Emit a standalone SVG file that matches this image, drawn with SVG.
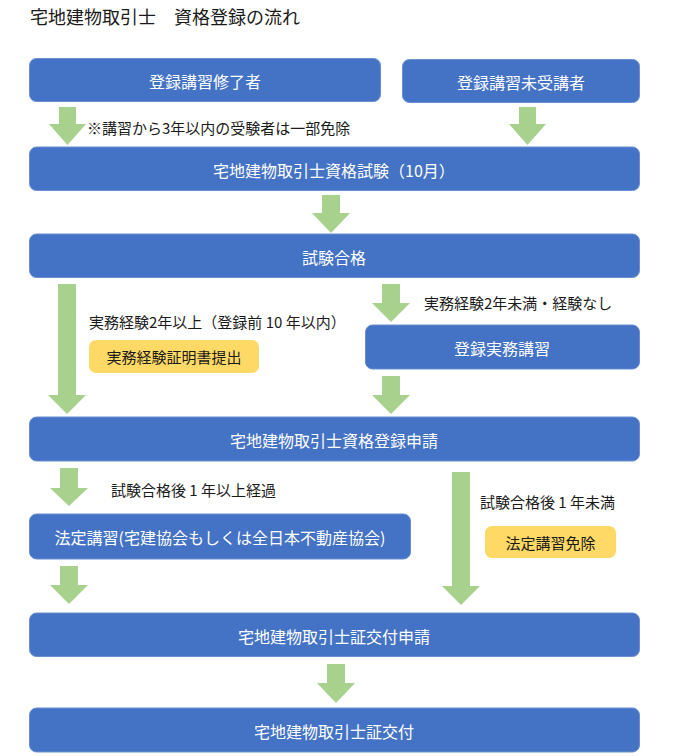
<svg xmlns="http://www.w3.org/2000/svg" width="680" height="756" viewBox="0 0 680 756">
<style>
text{font-family:"Noto Sans CJK JP","Noto Sans CJK SC",sans-serif;}
.box{fill:#4472C4;stroke:#6B8FD3;stroke-width:1;}
.ybox{fill:#FFD966;}
.bt{fill:#ffffff;font-size:16px;text-anchor:middle;dominant-baseline:central;}
.yt{fill:#1a1a1a;font-size:15px;text-anchor:middle;dominant-baseline:central;}
.lt{fill:#1a1a1a;font-size:15px;dominant-baseline:central;}
.arrow{fill:#A9D18E;}
</style>
<rect width="680" height="756" fill="#ffffff"/>
<text x="30" y="16" style="font-size:18px;fill:#1a1a1a;dominant-baseline:central">宅地建物取引士　資格登録の流れ</text>
<g id="connectors">
<polygon class="arrow" points="59,107 76,107 76,124 86,124 67.5,145 49,124 59,124"/>
<polygon class="arrow" points="519,107 536,107 536,124 546,124 527.5,145 509,124 519,124"/>
<polygon class="arrow" points="322,195 340,195 340,213 350,213 331,233 312,213 322,213"/>
<polygon class="arrow" points="58,284 76,284 76,395 86,395 67,414 48,395 58,395"/>
<polygon class="arrow" points="382,284 400,284 400,303 410,303 391,322 372,303 382,303"/>
<polygon class="arrow" points="382,376 400,376 400,395 410,395 391,414 372,395 382,395"/>
<polygon class="arrow" points="60,468 78,468 78,488 88,488 69,506 50,488 60,488"/>
<polygon class="arrow" points="60,566 78,566 78,585 88,585 69,604 50,585 60,585"/>
<polygon class="arrow" points="452,472 470,472 470,586 480,586 461,605 442,586 452,586"/>
<polygon class="arrow" points="327,664 345,664 345,683 355,683 336,703 317,683 327,683"/>
</g>
<g id="n1"><rect class="box" x="29.5" y="58.5" width="351" height="43" rx="7"/><text class="bt" x="205" y="80.5">登録講習修了者</text></g>
<g id="n2"><rect class="box" x="402.5" y="59.5" width="237" height="43" rx="7"/><text class="bt" x="521" y="81.5">登録講習未受講者</text></g>
<g id="note1"><text class="lt" x="87" y="127">※講習から3年以内の受験者は一部免除</text></g>
<g id="n3"><rect class="box" x="29.5" y="147" width="610" height="43.5" rx="7"/><text class="bt" x="334" y="169.5">宅地建物取引士資格試験（10月）</text></g>
<g id="n4"><rect class="box" x="29.5" y="234" width="610" height="43.5" rx="7"/><text class="bt" x="334" y="256.5">試験合格</text></g>
<g id="note2"><text class="lt" x="89" y="321">実務経験2年以上（登録前 10 年以内）</text></g>
<g id="y1"><rect class="ybox" x="89" y="340" width="170" height="33" rx="7"/><text class="yt" x="174" y="356.5">実務経験証明書提出</text></g>
<g id="note3"><text class="lt" x="424" y="302">実務経験2年未満・経験なし</text></g>
<g id="n5"><rect class="box" x="365.5" y="325" width="274" height="44" rx="7"/><text class="bt" x="502" y="347.5">登録実務講習</text></g>
<g id="n6"><rect class="box" x="29.5" y="417" width="610" height="44" rx="7"/><text class="bt" x="334" y="439.5">宅地建物取引士資格登録申請</text></g>
<g id="note4"><text class="lt" x="111" y="489">試験合格後 1 年以上経過</text></g>
<g id="n7"><rect class="box" x="29.5" y="514" width="381" height="45" rx="7"/><text class="bt" x="220" y="537">法定講習(宅建協会もしくは全日本不動産協会)</text></g>
<g id="note5"><text class="lt" x="480" y="501">試験合格後 1 年未満</text></g>
<g id="y2"><rect class="ybox" x="485" y="526" width="131" height="32" rx="7"/><text class="yt" x="550.5" y="542">法定講習免除</text></g>
<g id="n8"><rect class="box" x="29.5" y="613" width="610" height="43.5" rx="7"/><text class="bt" x="334" y="635.5">宅地建物取引士証交付申請</text></g>
<g id="n9"><rect class="box" x="29.5" y="708" width="610" height="44" rx="7"/><text class="bt" x="334" y="730.5">宅地建物取引士証交付</text></g>
</svg>
